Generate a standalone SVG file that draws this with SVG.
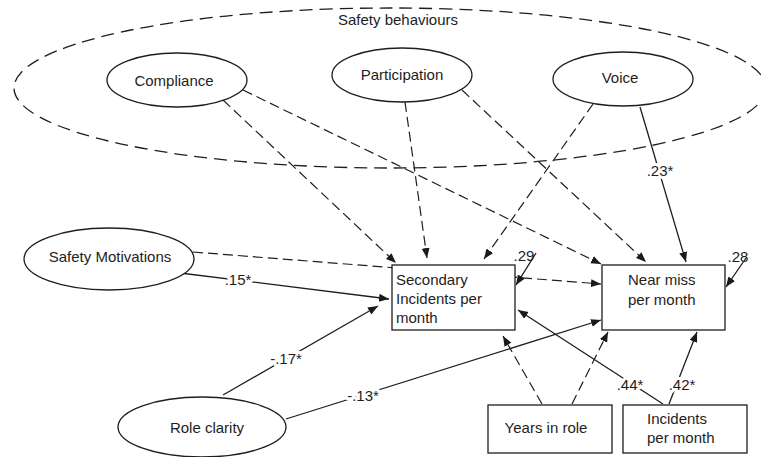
<svg xmlns="http://www.w3.org/2000/svg" width="761" height="457" viewBox="0 0 761 457">
<defs>
<marker id="ah" markerUnits="userSpaceOnUse" markerWidth="11" markerHeight="9" refX="10" refY="4" orient="auto">
<path d="M0,0 L10,4 L0,8 z" fill="#1a1a1a"/>
</marker>
<style>
text{font-family:"Liberation Sans",Arial,sans-serif;font-size:15px;fill:#1e1e1e}
.lbl{text-anchor:middle}
.halo{stroke:#fff;stroke-width:6px;paint-order:stroke;stroke-linejoin:round}
.solid{stroke:#1e1e1e;stroke-width:1.3;fill:none;marker-end:url(#ah)}
.dash{stroke:#1e1e1e;stroke-width:1.2;fill:none;stroke-dasharray:10 5;marker-end:url(#ah)}
.node{fill:#fff;stroke:#1e1e1e;stroke-width:1.3}
.mid{text-anchor:middle}
</style>
</defs>
<rect width="761" height="457" fill="#fff"/>
<g id="safety-behaviours">
<ellipse cx="390" cy="88" rx="376" ry="80" fill="none" stroke="#1e1e1e" stroke-width="1.3" stroke-dasharray="13 7"/>
<text x="398" y="25" class="mid">Safety behaviours</text>
</g>
<g id="connectors">
<line class="dash" x1="223" y1="100" x2="396" y2="263"/>
<line class="dash" x1="243" y1="90" x2="601" y2="264"/>
<line class="dash" x1="405" y1="102" x2="427" y2="258"/>
<line class="dash" x1="462" y1="90" x2="646" y2="262"/>
<line class="dash" x1="593" y1="104" x2="484" y2="259"/>
<line class="solid" x1="640" y1="107" x2="686" y2="262"/>
<line class="dash" x1="193" y1="252" x2="601" y2="284"/>
<line class="solid" x1="180" y1="273" x2="389" y2="299"/>
<line class="solid" x1="223" y1="395" x2="378" y2="306"/>
<line class="solid" x1="286" y1="419" x2="601" y2="320"/>
<line class="dash" x1="542" y1="404" x2="503" y2="336"/>
<line class="dash" x1="572" y1="404" x2="608" y2="332"/>
<line class="solid" x1="663" y1="404" x2="518" y2="310"/>
<line class="solid" x1="669" y1="404" x2="697" y2="332"/>
<line class="solid" x1="536" y1="253" x2="516" y2="285"/>
<line class="solid" x1="746" y1="258" x2="726" y2="287"/>
<text x="660" y="176" class="lbl halo">.23*</text>
<text x="238" y="285" class="lbl halo">.15*</text>
<text x="286" y="364" class="lbl halo">-.17*</text>
<text x="363" y="401" class="lbl halo">-.13*</text>
<text x="630" y="390" class="lbl halo">.44*</text>
<text x="682" y="390" class="lbl halo">.42*</text>
<text x="524" y="261" class="lbl">.29</text>
<text x="738" y="262" class="lbl">.28</text>
</g>
<g id="compliance">
<ellipse class="node" cx="177" cy="80" rx="70" ry="27"/>
<text x="174" y="86" class="mid">Compliance</text>
</g>
<g id="participation">
<ellipse class="node" cx="402" cy="75" rx="70" ry="27"/>
<text x="402" y="80" class="mid">Participation</text>
</g>
<g id="voice">
<ellipse class="node" cx="623" cy="79" rx="70" ry="27"/>
<text x="620" y="83" class="mid">Voice</text>
</g>
<g id="safety-motivations">
<ellipse class="node" cx="109" cy="259" rx="85" ry="31"/>
<text x="110" y="262" class="mid">Safety Motivations</text>
</g>
<g id="role-clarity">
<ellipse class="node" cx="202" cy="427" rx="84" ry="30"/>
<text x="207" y="433" class="mid">Role clarity</text>
</g>
<g id="secondary-incidents">
<rect class="node" x="392" y="265" width="123" height="65"/>
<text x="396" y="285">Secondary</text>
<text x="396" y="304">Incidents per</text>
<text x="396" y="323">month</text>
</g>
<g id="near-miss">
<rect class="node" x="602" y="265" width="123" height="65"/>
<text x="628" y="285">Near miss</text>
<text x="628" y="305">per month</text>
</g>
<g id="years-in-role">
<rect class="node" x="488" y="405" width="124" height="48"/>
<text x="546" y="433" class="mid">Years in role</text>
</g>
<g id="incidents-per-month">
<rect class="node" x="623" y="405" width="124" height="48"/>
<text x="647" y="424">Incidents</text>
<text x="647" y="443">per month</text>
</g>
</svg>
